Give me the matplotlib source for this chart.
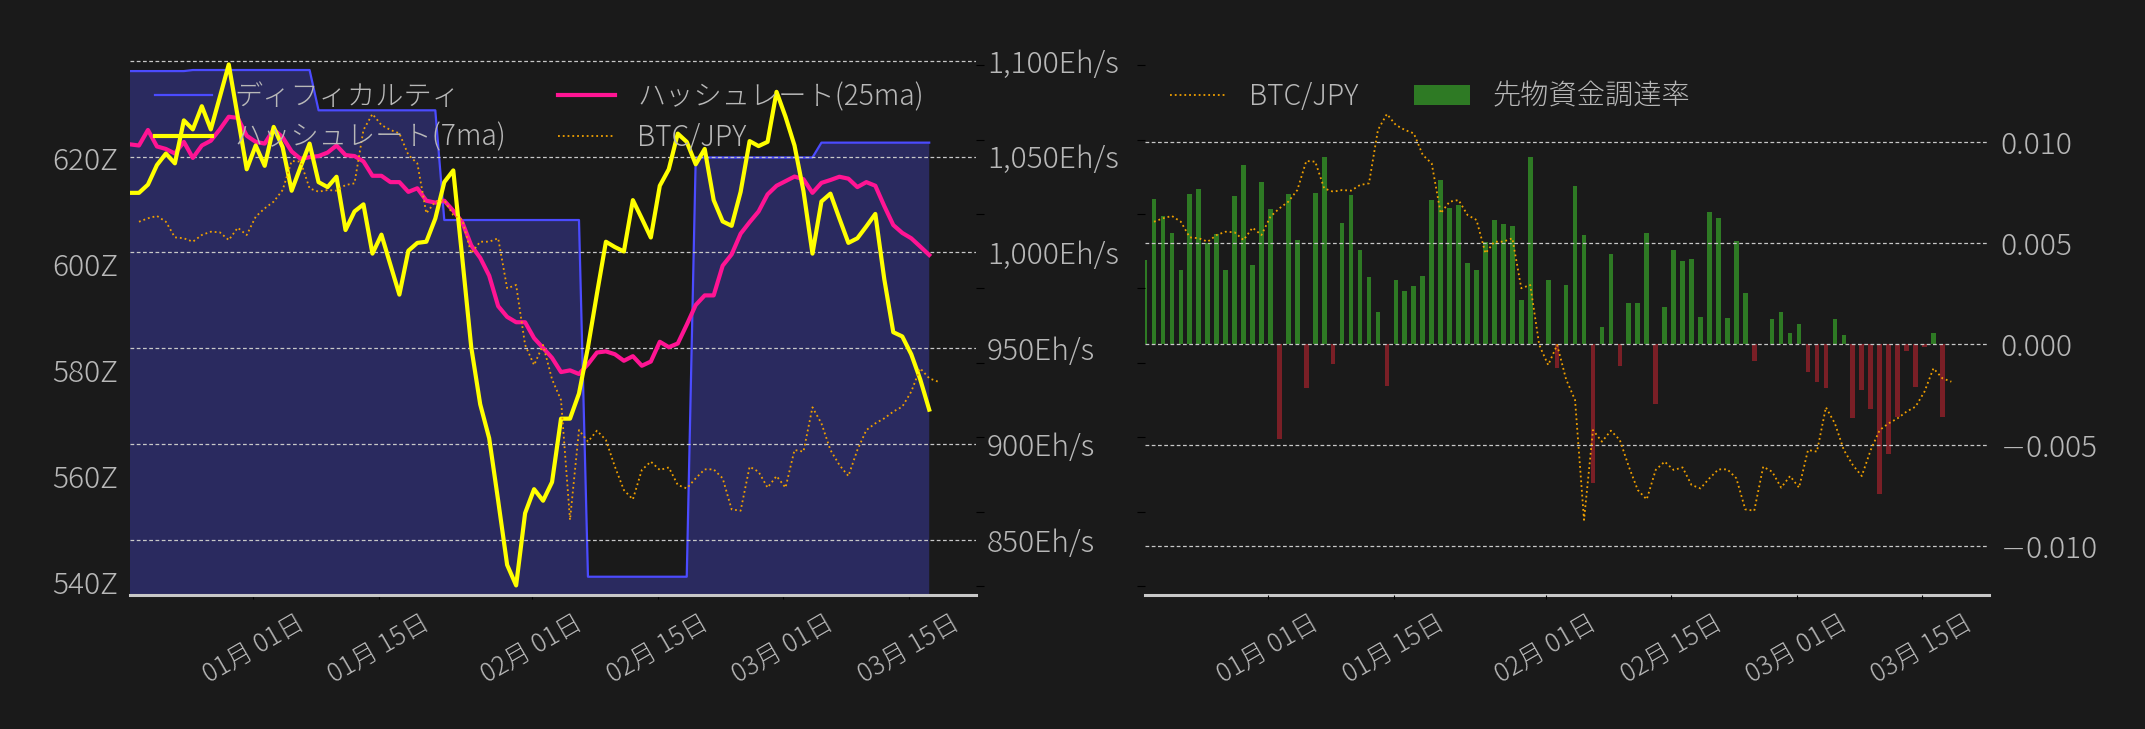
import pandas as pd
import matplotlib
matplotlib.use('Agg')
import matplotlib.pyplot as plt
import matplotlib.dates as mdates
from matplotlib.ticker import MultipleLocator, FuncFormatter, NullFormatter

plt.rcParams['font.family'] = ['Noto Sans CJK JP', 'DejaVu Sans']
plt.rcParams['font.weight'] = 'light'
plt.rcParams['axes.unicode_minus'] = True

BG = '#1a1a1a'
TXT = '#b8b8b8'

# daily data, 2024-12-18 .. 2025-03-17
dates = pd.date_range('2024-12-18 06:00', periods=90, freq='D')
btc_dates = pd.date_range('2024-12-19 06:00', periods=90, freq='D')

difficulty = [636.4, 636.4, 636.4, 636.4, 636.4, 636.4, 636.4,
              636.6, 636.6, 636.6, 636.6, 636.6, 636.6, 636.6, 636.6, 636.6, 636.6, 636.6, 636.6, 636.6, 636.6,
              629.0, 629.0, 629.0, 629.0, 629.0, 629.0, 629.0, 629.0, 629.0, 629.0, 629.0, 629.0, 629.0, 629.0,
              608.3, 608.3, 608.3, 608.3, 608.3, 608.3, 608.3, 608.3, 608.3, 608.3, 608.3, 608.3, 608.3, 608.3,
              608.3, 608.3,
              541.0, 541.0, 541.0, 541.0, 541.0, 541.0, 541.0, 541.0, 541.0, 541.0, 541.0, 541.0,
              620.1, 620.1, 620.1, 620.1, 620.1, 620.1, 620.1, 620.1, 620.1, 620.1, 620.1, 620.1, 620.1, 620.1,
              622.9, 622.9, 622.9, 622.9, 622.9, 622.9, 622.9, 622.9, 622.9, 622.9, 622.9, 622.9, 622.9]

hash_7ma = [1031.1, 1031.1, 1035.4, 1045.6, 1051.6, 1046.5, 1068.9, 1064.2, 1076.3, 1064.2,
            1081.0, 1098.1, 1070.8, 1043.4, 1055.8, 1045.2, 1065.5, 1054.9, 1032.2, 1044.7,
            1056.8, 1036.7, 1034.1, 1039.5, 1011.7, 1021.4, 1025.1, 999.4, 1009.3, 993.6,
            978.0, 1000.9, 1005.0, 1005.6, 1017.7, 1036.7, 1042.8, 997.2, 950.6, 920.8,
            903.1, 870.5, 837.0, 826.3, 864.0, 876.5, 870.5, 880.2, 913.3, 913.3,
            926.4, 950.6, 978.5, 1005.6, 1002.8, 1000.5, 1027.3, 1017.7, 1007.8, 1034.8,
            1043.4, 1062.0, 1057.7, 1046.0, 1054.0, 1027.3, 1016.2, 1013.9, 1031.6, 1058.1,
            1055.5, 1057.7, 1083.8, 1070.8, 1055.8, 1032.0, 999.4, 1026.6, 1030.7, 1017.7,
            1005.0, 1007.4, 1013.6, 1020.1, 986.0, 958.4, 956.2, 946.9, 933.8, 918.0]

hash_25ma = [1056.4, 1055.8, 1063.9, 1055.3, 1054.0, 1051.6, 1057.7, 1049.3, 1055.8, 1058.3,
             1064.2, 1070.8, 1070.2, 1060.9, 1057.7, 1056.8, 1064.2, 1060.1, 1052.7, 1048.8,
             1049.7, 1050.3, 1052.1, 1055.8, 1050.8, 1050.3, 1047.5, 1040.0, 1040.0, 1036.7,
             1036.7, 1031.6, 1033.5, 1027.0, 1026.0, 1027.0, 1021.8, 1015.8, 1003.7, 997.2,
             987.9, 972.0, 966.4, 963.6, 963.6, 955.3, 950.2, 945.0, 937.6, 938.5,
             936.6, 941.7, 947.8, 948.4, 946.9, 943.5, 945.9, 940.9, 943.1, 953.4,
             950.6, 952.5, 962.3, 972.6, 977.6, 977.6, 993.1, 999.0, 1009.8, 1015.8,
             1021.4, 1030.3, 1034.8, 1037.2, 1039.6, 1038.2, 1031.1, 1036.3, 1037.8, 1039.5,
             1038.5, 1034.1, 1036.7, 1034.8, 1024.2, 1014.3, 1010.2, 1007.4, 1003.1, 998.7]

# BTC/JPY in million yen
btc_jpy = [16.448, 16.471, 16.487, 16.448, 16.343, 16.337, 16.314, 16.359, 16.381, 16.377,
           16.325, 16.408, 16.359, 16.482, 16.538, 16.583, 16.661, 16.856, 16.852, 16.672,
           16.650, 16.661, 16.657, 16.695, 16.706, 17.065, 17.172, 17.098, 17.065, 17.042,
           16.897, 16.840, 16.505, 16.583, 16.594, 16.493, 16.460, 16.236, 16.314, 16.314,
           16.337, 16.001, 16.023, 15.620, 15.485, 15.620, 15.389, 15.250, 14.444, 15.048,
           14.970, 15.044, 14.981, 14.802, 14.645, 14.582, 14.780, 14.836, 14.780, 14.797,
           14.679, 14.656, 14.724, 14.784, 14.784, 14.724, 14.515, 14.506, 14.802, 14.768,
           14.661, 14.739, 14.661, 14.914, 14.903, 15.201, 15.093, 14.914, 14.813, 14.739,
           14.914, 15.048, 15.093, 15.127, 15.172, 15.205, 15.306, 15.463, 15.396, 15.373]

funding = [0.00417, 0.00720, 0.00635, 0.00551, 0.00368, 0.00744, 0.00769, 0.00500, 0.00546, 0.00368,
           0.00734, 0.00888, 0.00393, 0.00804, 0.00670, -0.00467, 0.00744, 0.00517, -0.00215, 0.00749,
           0.00927, -0.00096, 0.00601, 0.00739, 0.00467, 0.00333, 0.00160, -0.00205, 0.00318, 0.00264,
           0.00289, 0.00338, 0.00715, 0.00814, 0.00675, 0.00690, 0.00403, 0.00368, 0.00507, 0.00616,
           0.00596, 0.00586, 0.00219, 0.00927, 0.0, 0.00318, -0.00116, 0.00294, 0.00784, 0.00541,
           -0.00685, 0.00086, 0.00447, -0.00106, 0.00205, 0.00205, 0.00551, -0.00294, 0.00185, 0.00467,
           0.00413, 0.00422, 0.00135, 0.00655, 0.00625, 0.00130, 0.00512, 0.00254, -0.00081, 0.0,
           0.00125, 0.00160, 0.00056, 0.00101, -0.00135, -0.00185, -0.00215, 0.00125, 0.00046, -0.00363,
           -0.00224, -0.00318, -0.00739, -0.00541, -0.00358, -0.00031, -0.00210, -0.00012, 0.00056, -0.00358]

xlim = (dates[0], pd.Timestamp('2025-03-22 11:00'))
GRID = dict(color='#c8c8c8', lw=0.9, ls=(0, (3, 2)))


def style_axes(ax):
    ax.set_facecolor('none')
    for s in ['top', 'left', 'right', 'bottom']:
        ax.spines[s].set_visible(False)


def fmt_rate(v, pos):
    if abs(v) < 1e-9:
        return '0.000'
    if v < 0:
        # wide minus sign like the original
        return r'$-$' + f'{-v:.3f}'
    return f'{v:.3f}'


fig = plt.figure(figsize=(21.45, 7.29), dpi=100, facecolor=BG)

# ---------------- left panel ----------------
ax1 = fig.add_axes([0.0606, 0.1838, 0.3944, 0.7394])
ax1.set_facecolor(BG)
for s in ['top', 'left', 'right']:
    ax1.spines[s].set_visible(False)
ax1.spines['bottom'].set_color('#c8c8c8')
ax1.spines['bottom'].set_linewidth(2.2)
ax1.fill_between(dates, difficulty, 0, color='#5050ff', alpha=0.3, lw=0)
l_diff, = ax1.plot(dates, difficulty, color='#4b4bff', lw=1.6, label='ディフィカルティ')
ax1.set_ylim(537.55, 639.25)
ax1.yaxis.set_major_locator(MultipleLocator(20))
ax1.yaxis.set_major_formatter(FuncFormatter(lambda v, p: f'{v:.0f}Z'))
ax1.tick_params(axis='y', length=0, pad=8.5, labelsize=21.5, labelcolor=TXT)
ax1.set_xlim(xlim)
ax1.xaxis.set_major_locator(mdates.DayLocator(bymonthday=[1, 15]))
ax1.xaxis.set_major_formatter(mdates.DateFormatter('%m月 %d日'))
ax1.tick_params(axis='x', length=3, color='black', pad=7, labelsize=18.5, labelcolor=TXT, labelrotation=30)

ax1h = ax1.twinx()
style_axes(ax1h)
l25, = ax1h.plot(dates, hash_25ma, color='#ff1493', lw=3, label='ハッシュレート(25ma)')
l7, = ax1h.plot(dates, hash_7ma, color='#ffff00', lw=3, label='ハッシュレート(7ma)')
ax1h.set_ylim(821.3, 1102.5)
ax1h.yaxis.set_major_locator(MultipleLocator(50))
ax1h.yaxis.set_major_formatter(FuncFormatter(lambda v, p: f'{v:,.0f}Eh/s'))
ax1h.tick_params(axis='y', length=0, pad=8, labelsize=21.5, labelcolor=TXT)
ax1h.grid(axis='y', **GRID)

ax1b = ax1.twinx()
style_axes(ax1b)
l_btc, = ax1b.plot(btc_dates, btc_jpy, ls=':', color='#f0a000', lw=1.3, label='BTC/JPY')
ax1b.set_ylim(13.9395, 17.562)
ax1b.yaxis.set_major_locator(MultipleLocator(0.5))
ax1b.yaxis.set_major_formatter(NullFormatter())
ax1b.tick_params(axis='y', length=6, color='black')
ax1b.set_xlim(xlim)

ax1b.legend([l_diff, l7, l25, l_btc],
            ['ディフィカルティ', 'ハッシュレート(7ma)', 'ハッシュレート(25ma)', 'BTC/JPY'],
            ncol=2, loc='upper left', frameon=False, fontsize=20.3, labelcolor=TXT,
            labelspacing=0.36, columnspacing=1.85)

# ---------------- right panel ----------------
ax2 = fig.add_axes([0.5338, 0.1838, 0.3935, 0.7394])
ax2.set_facecolor(BG)
for s in ['top', 'left', 'right']:
    ax2.spines[s].set_visible(False)
ax2.spines['bottom'].set_color('#c8c8c8')
ax2.spines['bottom'].set_linewidth(2.2)
bar_colors = ['#2e7a24' if v >= 0 else '#7a1f26' for v in funding]
bars = ax2.bar(dates, funding, width=0.52, color=bar_colors, label='先物資金調達率')
ax2.set_ylim(-0.012411, 0.014272)
ax2.set_xlim(xlim)
ax2.xaxis.set_major_locator(mdates.DayLocator(bymonthday=[1, 15]))
ax2.xaxis.set_major_formatter(mdates.DateFormatter('%m月 %d日'))
ax2.tick_params(axis='x', length=3, color='black', pad=7, labelsize=18.5, labelcolor=TXT, labelrotation=30)
ax2.grid(axis='y', **GRID)
ax2.set_axisbelow(False)

ax2b = ax2.twinx()
style_axes(ax2b)
r_btc, = ax2b.plot(btc_dates, btc_jpy, ls=':', color='#f0a000', lw=1.3, label='BTC/JPY')
ax2b.set_ylim(13.9395, 17.562)
ax2b.yaxis.set_major_locator(MultipleLocator(0.5))
ax2b.yaxis.set_major_formatter(NullFormatter())
ax2b.set_xlim(xlim)

ax2.yaxis.tick_right()
ax2.yaxis.set_major_locator(MultipleLocator(0.005))
ax2.yaxis.set_major_formatter(FuncFormatter(fmt_rate))
ax2.tick_params(axis='y', length=0, pad=8, labelsize=21.5, labelcolor=TXT)
ax2b.yaxis.tick_left()
ax2b.tick_params(axis='y', length=6, color='black')

ax2b.legend([r_btc, bars], ['BTC/JPY', '先物資金調達率'],
            ncol=2, loc='upper left', frameon=False, fontsize=20.3, labelcolor=TXT,
            labelspacing=0.36, columnspacing=1.95)

fig.savefig('out.png', dpi=100, facecolor=BG)
